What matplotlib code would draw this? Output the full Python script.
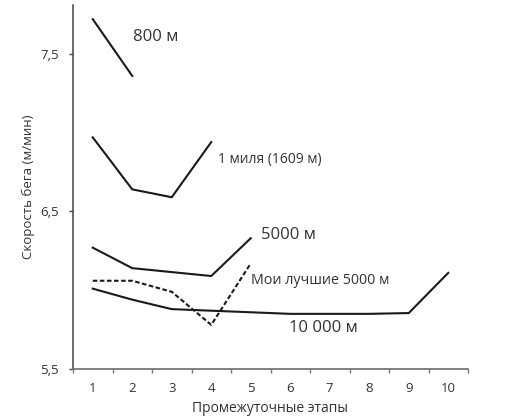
import matplotlib.pyplot as plt
import numpy as np

plt.rcParams['font.family'] = ['Open Sans', 'DejaVu Sans']

# данные (скорость, м/мин условные единицы графика)
x800 = [1, 2]
y800 = [7.72, 7.36]
x_mile = [1, 2, 3, 4]
y_mile = [6.97, 6.64, 6.59, 6.94]
x5000 = [1, 2, 3, 4, 5]
y5000 = [6.27, 6.14, 6.115, 6.09, 6.33]
x_my = [1, 2, 3, 4, 5]
y_my = [6.06, 6.06, 5.99, 5.78, 6.17]
x10000 = [1, 2, 3, 4, 5, 6, 7, 8, 9, 10]
y10000 = [6.01, 5.94, 5.88, 5.87, 5.86, 5.85, 5.85, 5.85, 5.855, 6.11]

xticks = list(range(1, 11))
yticks = [5.5, 6.5, 7.5]
ylabels = ['5,5', '6,5', '7,5']

fig = plt.figure(figsize=(5.11, 4.2), dpi=100)
ax = fig.add_axes([73 / 511, 51 / 420, 395 / 511, 364 / 420])

lc = '#1a1a1a'
ax.plot(x800, y800, color=lc, lw=1.5)
ax.plot(x_mile, y_mile, color=lc, lw=1.5)
ax.plot(x5000, y5000, color=lc, lw=1.5)
ax.plot(x_my, y_my, color=lc, lw=1.5, linestyle=(0, (2.2, 1.2)))
ax.plot(x10000, y10000, color=lc, lw=1.5)

tc = '#333333'
ax.text(2.02, 7.61, '800 м', fontsize=12, color=tc, va='center')
ax.text(4.16, 6.83, '1 миля (1609 м)', fontsize=10, color=tc, va='center')
ax.text(5.27, 6.35, '5000 м', fontsize=12, color=tc, va='center')
ax.text(5.0, 6.06, 'Мои лучшие 5000 м', fontsize=10.3, color=tc, va='center')
ax.text(5.96, 5.76, '10 000 м', fontsize=12, color=tc, va='center')

ax.set_xlim(0.5, 10.5)
ax.set_ylim(5.5, 7.81)

ax.set_xticks(np.arange(0.5, 11, 1))
ax.set_xticklabels([])
ax.set_xticks(xticks, minor=True)
ax.set_xticklabels([str(v) for v in xticks], minor=True)
ax.tick_params(axis='x', which='major', length=3, width=1, color='#777777')
ax.tick_params(axis='x', which='minor', length=0, pad=9, labelsize=9.5, labelcolor=tc)

ax.set_yticks(yticks)
ax.set_yticklabels(ylabels)
ax.tick_params(axis='y', length=3, width=1, color='#444444', pad=7, labelsize=9.5, labelcolor=tc)

for s in ['top', 'right']:
    ax.spines[s].set_visible(False)
ax.spines['bottom'].set_color('#777777')
ax.spines['bottom'].set_linewidth(1.3)
ax.spines['left'].set_color('#444444')
ax.spines['left'].set_linewidth(1.1)

ax.set_xlabel('Промежуточные этапы', fontsize=10, color=tc, labelpad=5)
ax.set_ylabel('Скорость бега (м/мин)', fontsize=9.5, color=tc, labelpad=4)

fig.savefig('out.png', dpi=100)
